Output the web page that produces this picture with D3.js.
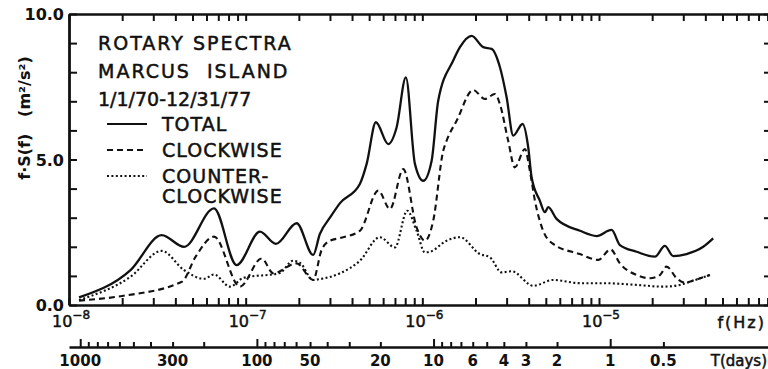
<!DOCTYPE html>
<html>
<head>
<meta charset="utf-8">
<script src="https://cdn.jsdelivr.net/npm/d3@7"></script>
<style>
  body { margin: 0; background: #fff; }
  text { font-family: "DejaVu Sans", sans-serif; fill: #111; }
  .heavy { stroke: #111; stroke-width: 0.5px; }
</style>
</head>
<body>
<div id="chart"></div>
<script>
// [frequency Hz, f*S(f) m^2/s^2]
var totalSeries = [
  [1.14e-8, 0.26], [2.23e-8, 1.20], [3.35e-8, 2.40], [4.48e-8, 2.00], [6.62e-8, 3.32],
  [8.89e-8, 1.37], [1.205e-7, 2.52], [1.483e-7, 2.10], [1.944e-7, 2.81], [2.41e-7, 1.72],
  [2.63e-7, 2.44], [3.0e-7, 3.0], [3.42e-7, 3.5], [4.43e-7, 4.16], [4.84e-7, 4.85],
  [5.46e-7, 6.28], [6.41e-7, 5.53], [7.15e-7, 6.10], [8.07e-7, 7.82], [9.08e-7, 4.85],
  [1.012e-6, 4.27], [1.129e-6, 4.96], [1.23e-6, 7.02], [1.496e-6, 8.40], [1.633e-6, 8.86],
  [1.901e-6, 9.25], [2.212e-6, 8.86], [2.466e-6, 8.80], [2.75e-6, 8.17], [3.0e-6, 7.14],
  [3.27e-6, 5.82], [3.695e-6, 6.22], [3.975e-6, 5.42], [4.155e-6, 4.39], [4.63e-6, 3.58],
  [4.94e-6, 3.19], [5.16e-6, 3.36], [5.75e-6, 2.96], [7.8e-6, 2.55], [9.69e-6, 2.37],
  [1.178e-5, 2.58], [1.313e-5, 2.06], [1.633e-5, 1.83], [2.072e-5, 1.66], [2.36e-5, 2.03],
  [2.63e-5, 1.68], [3.13e-5, 1.75], [3.89e-5, 2.00], [4.43e-5, 2.29]
];
var clockwiseSeries = [
  [1.14e-8, 0.15], [2.0e-8, 0.31], [4.36e-8, 0.80], [5.21e-8, 1.66], [6.62e-8, 2.35],
  [9.28e-8, 0.63], [1.232e-7, 1.60], [1.432e-7, 1.09], [1.944e-7, 1.43], [2.41e-7, 0.86],
  [2.69e-7, 1.89], [3.0e-7, 2.21], [3.42e-7, 2.30], [4.43e-7, 2.55], [5.63e-7, 3.93],
  [6.56e-7, 3.30], [7.8e-7, 4.67], [9.28e-7, 2.67], [1.034e-6, 2.21], [1.153e-6, 2.90],
  [1.313e-6, 5.30], [1.373e-6, 5.65], [1.563e-6, 6.33], [1.941e-6, 7.39], [2.26e-6, 7.08],
  [2.576e-6, 7.25], [2.75e-6, 6.90], [3.06e-6, 5.65], [3.34e-6, 4.73], [3.81e-6, 5.36],
  [4.06e-6, 4.62], [4.34e-6, 3.58], [4.83e-6, 2.55], [5.5e-6, 2.10], [7.8e-6, 1.75],
  [9.9e-6, 1.55], [1.163e-5, 1.91], [1.313e-5, 1.43], [1.633e-5, 1.03], [1.94e-5, 0.92],
  [2.213e-5, 1.03], [2.413e-5, 1.32], [2.75e-5, 0.92], [3.06e-5, 0.77], [3.49e-5, 0.86],
  [4.24e-5, 1.03]
];
var counterSeries = [
  [1.14e-8, 0.17], [2.23e-8, 0.97], [3.35e-8, 1.86], [4.48e-8, 1.20], [5.81e-8, 0.90],
  [6.62e-8, 1.05], [8.15e-8, 0.63], [9.7e-8, 0.93], [1.563e-7, 1.10], [1.852e-7, 1.52],
  [2.03e-7, 1.45], [2.41e-7, 0.86], [2.63e-7, 0.89], [3.42e-7, 1.09], [4.43e-7, 1.52],
  [5.75e-7, 2.33], [7.0e-7, 1.98], [8.21e-7, 3.24], [9.28e-7, 2.55], [1.034e-6, 1.81],
  [1.104e-6, 1.83], [1.373e-6, 2.21], [1.633e-6, 2.33], [2.118e-6, 1.75], [2.413e-6, 1.64],
  [2.81e-6, 1.12], [3.2e-6, 1.16], [4.243e-6, 0.66], [5.5e-6, 0.86], [7.8e-6, 0.75],
  [1.056e-5, 0.75], [1.633e-5, 0.69], [2.308e-5, 0.63], [2.87e-5, 0.69], [3.27e-5, 0.80],
  [4.24e-5, 1.03]
];

var yTickLabels = [0, 5, 10];
var decadeExponents = [-8, -7, -6, -5];
var periodMajor = [1000, 100, 10, 1];
var periodMinor = [900, 800, 700, 600, 500, 400, 300, 200, 90, 80, 70, 60, 50, 40, 30, 20,
                   9, 8, 7, 6, 5, 4, 3, 2, 0.5];
var periodLabels = [1000, 300, 100, 50, 20, 10, 6, 4, 3, 2, 1, 0.5];
var titleLines = ["ROTARY SPECTRA", "MARCUS  ISLAND", "1/1/70-12/31/77"];
var legendNames = ["TOTAL", "CLOCKWISE", "COUNTER-"];

var width = 768, height = 369;
var plotLeft = 69, plotRight = 768, plotTop = 14, plotBottom = 305;

var svg = d3.select("#chart").append("svg")
  .attr("width", width)
  .attr("height", height);

var x = d3.scaleLog().domain([1e-8, 9.05e-5]).range([plotLeft, plotRight]);
var y = d3.scaleLinear().domain([0, 10]).range([plotBottom, plotTop]);
// period in days for the lower scale
var xT = d3.scaleLog().domain([1 / (86400 * 1e-8), 1 / (86400 * 9.05e-5)]).range([plotLeft, plotRight]);

function styleAxis(g, w) {
  g.selectAll("path").attr("stroke", "#111").attr("stroke-width", w);
  g.selectAll("line").attr("stroke", "#111").attr("stroke-width", 2);
  g.selectAll("text").remove();
}

var freqTicks = x.ticks();

svg.append("g")
  .attr("transform", "translate(0," + plotBottom + ")")
  .call(d3.axisTop(x).tickValues(freqTicks).tickSize(7).tickSizeOuter(0).tickFormat(""))
  .call(styleAxis, 2.6);

svg.append("g")
  .attr("transform", "translate(0," + plotTop + ")")
  .call(d3.axisBottom(x).tickValues(freqTicks).tickSize(7).tickSizeOuter(0).tickFormat(""))
  .call(styleAxis, 2.6);

svg.append("g")
  .attr("transform", "translate(" + plotLeft + ",0)")
  .call(d3.axisRight(y).ticks(10).tickSize(8).tickSizeOuter(0).tickFormat(""))
  .call(styleAxis, 2.8);

svg.append("g")
  .attr("transform", "translate(771,0)")
  .call(d3.axisLeft(y).ticks(10).tickSize(7).tickSizeOuter(0).tickFormat(""))
  .call(styleAxis, 2);

// y tick labels
svg.selectAll(".ylab")
  .data(yTickLabels)
  .enter().append("text")
  .attr("x", 64)
  .attr("y", function(d) { return y(d) + 6; })
  .attr("text-anchor", "end")
  .style("font-size", "16px")
  .style("font-weight", "bold")
  .text(function(d) { return d3.format(".1f")(d); });

// decade labels
var dec = svg.selectAll(".dec")
  .data(decadeExponents)
  .enter().append("text")
  .attr("class", "heavy")
  .attr("x", function(d) { return x(Math.pow(10, d)) + 2; })
  .attr("y", 327)
  .attr("text-anchor", "middle")
  .style("font-size", "16px");
dec.append("tspan").text("10");
dec.append("tspan")
  .attr("dy", -8)
  .style("font-size", "12px")
  .text(function(d) { return "\u2212" + Math.abs(d); });

svg.append("text")
  .attr("class", "heavy")
  .attr("x", 766)
  .attr("y", 328)
  .attr("text-anchor", "end")
  .style("font-size", "16px")
  .style("letter-spacing", "2px")
  .text("f(Hz)");

// period axis
svg.append("g")
  .attr("transform", "translate(0,347)")
  .call(d3.axisTop(xT).tickValues(periodMajor).tickSize(8).tickSizeOuter(0).tickFormat(""))
  .call(styleAxis, 2.4);

svg.append("g")
  .attr("transform", "translate(0,347)")
  .call(d3.axisTop(xT).tickValues(periodMinor).tickSize(5).tickSizeOuter(0).tickFormat(""))
  .call(styleAxis, 0)
  .select("path").remove();

svg.selectAll(".plab")
  .data(periodLabels)
  .enter().append("text")
  .attr("x", function(d) { return xT(d); })
  .attr("y", 366)
  .attr("text-anchor", "middle")
  .style("font-size", "15px")
  .style("font-weight", "bold")
  .text(function(d) { return d; });

svg.append("text")
  .attr("class", "heavy")
  .attr("x", 767)
  .attr("y", 366)
  .attr("text-anchor", "end")
  .style("font-size", "15px")
  .text("T(days)");

// y axis title
svg.append("text")
  .attr("transform", "translate(30,118)rotate(-90)")
  .attr("text-anchor", "middle")
  .style("font-size", "16px")
  .style("font-weight", "bold")
  .attr("xml:space", "preserve")
  .text("f\u00b7S(f)   (m\u00b2/s\u00b2)");

// curves
var line = d3.line()
  .x(function(d) { return x(d[0]); })
  .y(function(d) { return y(d[1]); })
  .curve(d3.curveMonotoneX);

var seriesList = [
  { data: totalSeries, dash: null, w: 2.3 },
  { data: clockwiseSeries, dash: "6,4", w: 2.1 },
  { data: counterSeries, dash: "2,2.4", w: 2.1 }
];

svg.selectAll(".series")
  .data(seriesList)
  .enter().append("path")
  .attr("d", function(d) { return line(d.data); })
  .attr("fill", "none")
  .attr("stroke", "#111")
  .attr("stroke-width", function(d) { return d.w; })
  .attr("stroke-dasharray", function(d) { return d.dash; });

// title block
svg.selectAll(".title")
  .data(titleLines)
  .enter().append("text")
  .attr("class", "heavy")
  .attr("x", 98)
  .attr("y", function(d, i) { return 50 + i * 28; })
  .attr("xml:space", "preserve")
  .style("font-size", "19px")
  .style("letter-spacing", function(d, i) { return i < 2 ? "2px" : "0px"; })
  .text(function(d) { return d; });

// legend
var leg = svg.selectAll(".leg")
  .data(seriesList)
  .enter().append("g")
  .attr("transform", function(d, i) { return "translate(0," + (124 + i * 26) + ")"; });

leg.append("line")
  .attr("x1", 107).attr("x2", 147)
  .attr("y1", 0).attr("y2", 0)
  .attr("stroke", "#111")
  .attr("stroke-width", function(d) { return d.w - 0.3; })
  .attr("stroke-dasharray", function(d) { return d.dash; });

leg.append("text")
  .attr("class", "heavy")
  .attr("x", 162)
  .attr("y", 7)
  .style("font-size", "19px")
  .style("letter-spacing", "1px")
  .text(function(d, i) { return legendNames[i]; });

svg.append("text")
  .attr("class", "heavy")
  .attr("x", 162)
  .attr("y", 203)
  .style("font-size", "19px")
  .style("letter-spacing", "1px")
  .text("CLOCKWISE");
</script>
</body>
</html>
